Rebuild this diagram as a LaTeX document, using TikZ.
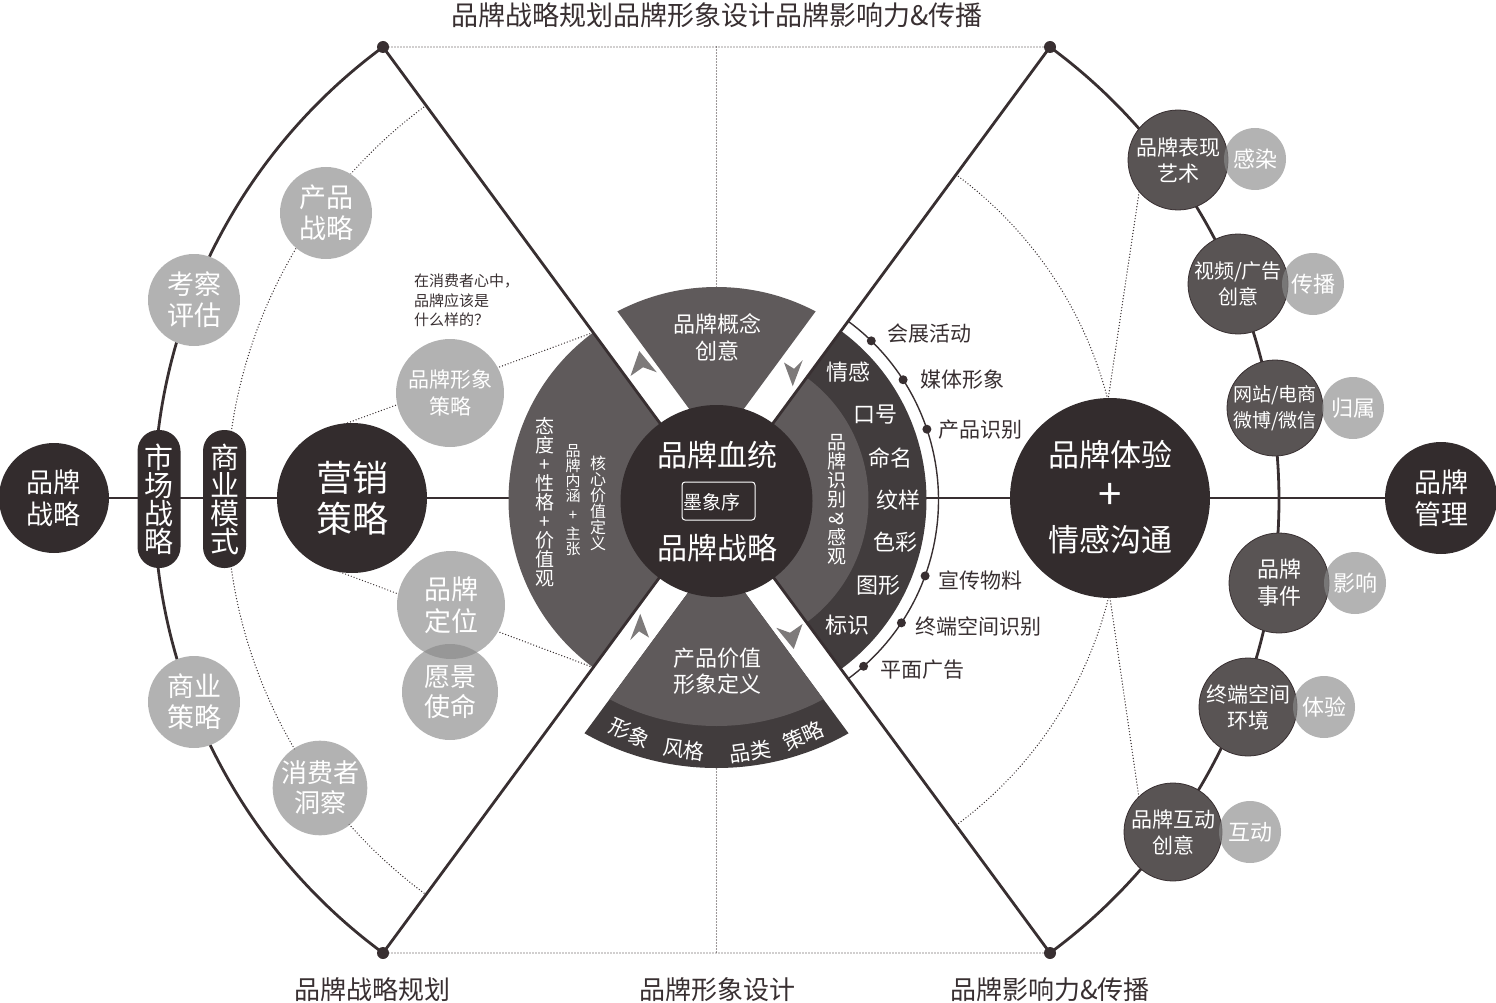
\documentclass[tikz,border=0pt]{standalone}
\usepackage{fontspec}
\setmainfont{Noto Sans CJK SC}
\usetikzlibrary{calc}
\definecolor{cdark}{HTML}{332C2D}
\definecolor{csec}{HTML}{5F5A5B}
\definecolor{cring}{HTML}{413C3D}
\definecolor{cmid}{HTML}{595454}
\definecolor{clight}{HTML}{8A8A8A}
\definecolor{cline}{HTML}{382F31}
\definecolor{carrow}{HTML}{7D7A7A}
\newcommand{\fs}[2]{\fontsize{#1}{#2}\selectfont}
\begin{document}
\begin{tikzpicture}[x=1pt,y=-1pt,
 mainline/.style={line width=2.8pt, draw=cline},
 dotline/.style={line width=1.4pt, draw=cline, line cap=round, dash pattern=on 0pt off 3pt},
 darkc/.style={circle, fill=cdark, text=white, inner sep=0pt, align=center},
 midc/.style={circle, fill=cmid, draw=cline, line width=0.8pt, text=white, inner sep=0pt, align=center},
 lightc/.style={circle, fill=clight, fill opacity=0.65, text opacity=1, text=white, inner sep=0pt, align=center},
 pillbox/.style={rectangle, rounded corners=21pt, fill=cdark, text=white, minimum width=43pt, minimum height=138pt, inner sep=0pt, align=center, font=\fs{29}{28}},
 wtxt/.style={text=white, inner sep=0pt, align=center},
 btxt/.style={text=cline, inner sep=0pt, align=center},
 dotn/.style={circle, fill=cline, inner sep=0pt, minimum size=9pt},
 vdot/.style={circle, fill=cline, inner sep=0pt, minimum size=12pt},
]
\useasboundingbox (0,0) rectangle (1496,1003);
\coordinate (C) at (716.5,500);
\coordinate (VTL) at (383,47);
\coordinate (VTR) at (1050,47);
\coordinate (VBL) at (383,953);
\coordinate (VBR) at (1050,953);

% ---------- dotted guides
\draw[dotline] (VTL) -- (VTR);
\draw[dotline] (VBL) -- (VBR);
\coordinate (TT) at (716.5,47); \coordinate (TB) at (716.5,300);
\draw[dotline] (TT) -- (TB);
\coordinate (BT) at (716.5,760); \coordinate (BB) at (716.5,953);
\draw[dotline] (BT) -- (BB);
\draw[dotline] (C) ++(233.64:490) arc[start angle=233.64,end angle=126.36,radius=490];
\draw[dotline] (C) ++(-53.64:404) arc[start angle=-53.64,end angle=53.64,radius=404];
\coordinate (m1) at (342,425); \coordinate (LSt) at (593.2,332.5);
\draw[dotline] (m1) -- (LSt);
\coordinate (m2) at (340,572); \coordinate (LSb) at (593.2,667.5);
\draw[dotline] (m2) -- (LSb);
\coordinate (r1) at (1140,186); \coordinate (r2) at (1108,400);
\draw[dotline] (r1) -- (r2);
\coordinate (r3) at (1110,598); \coordinate (r4) at (1140,805);
\draw[dotline] (r3) -- (r4);

% ---------- solid outer arcs and axis
\draw[mainline] (C) ++(233.64:562.5) arc[start angle=233.64,end angle=126.36,radius=562.5];
\draw[mainline] (C) ++(-53.64:562.5) arc[start angle=-53.64,end angle=53.64,radius=562.5];
\coordinate (HL) at (54,498); \coordinate (HR) at (1441,498);
\draw[mainline] (HL) -- (HR);

% ---------- sectors
\fill[csec] (C) -- ++(126.36:208) arc[start angle=126.36,end angle=233.64,radius=208] -- cycle;
\fill[cring] (C) -- ++(-53.64:210) arc[start angle=-53.64,end angle=53.64,radius=210] -- cycle;
\fill[csec] (C) -- ++(-53.64:152) arc[start angle=-53.64,end angle=53.64,radius=152] -- cycle;
\begin{scope}
 \clip (716.5,446) -- (479.3,123.9) -- (953.7,123.9) -- cycle;
 \fill[csec] (C) circle[radius=213];
\end{scope}
\begin{scope}
 \clip (716.5,554) -- (479.3,876.1) -- (953.7,876.1) -- cycle;
 \fill[cring] (C) circle[radius=268];
 \fill[csec] (C) circle[radius=226];
\end{scope}

% ---------- X lines
\draw[mainline] (VTL) -- (VBR);
\draw[mainline] (VTR) -- (VBL);

% ---------- thin arc with dots
\draw[line width=1.4pt, cline] (C) ++(-53.64:222) arc[start angle=-53.64,end angle=53.64,radius=222];
\node[dotn] (d1) at ($(C)+(-45.8:222)$) {};
\node[dotn] (d2) at ($(C)+(-32.8:222)$) {};
\node[dotn] (d3) at ($(C)+(-18.6:222)$) {};
\node[dotn] (d4) at ($(C)+(20.0:222)$) {};
\node[dotn] (d5) at ($(C)+(33.6:222)$) {};
\node[dotn] (d6) at ($(C)+(48.5:222)$) {};
\node[btxt, anchor=west, font=\fs{21}{21}] (t1) at (887,334) {会展活动};
\node[btxt, anchor=west, font=\fs{21}{21}] (t2) at (920,380) {媒体形象};
\node[btxt, anchor=west, font=\fs{21}{21}] (t3) at (938,430) {产品识别};
\node[btxt, anchor=west, font=\fs{21}{21}] (t4) at (938,580) {宣传物料};
\node[btxt, anchor=west, font=\fs{21}{21}] (t5) at (915,626) {终端空间识别};
\node[btxt, anchor=west, font=\fs{21}{21}] (t6) at (880,670) {平面广告};

% ---------- centre
\node[darkc, minimum size=192pt] (ctr) at (716.5,501) {};
\node[wtxt, font=\fs{30}{30}] (ct1) at (717,455) {品牌血统};
\node[wtxt, font=\fs{30}{30}] (ct2) at (717,548) {品牌战略};
\node[draw=white, line width=1pt, rounded corners=3pt, minimum width=73pt, minimum height=38pt, inner sep=0pt] (logo) at (718.5,501) {};
\node[wtxt, font=\fs{19}{19}] (logot) at (712,502) {墨象序};

% ---------- arrows
\begin{scope}[shift={(643,366)}, scale=1.25]
 \fill[carrow] (-3,-12) -- (-10,8) -- (0,1) -- (11,5) -- cycle;
\end{scope}
\begin{scope}[shift={(794,370)}, scale=1.25]
 \fill[carrow] (-1,13) -- (-8,-6) -- (0,-1) -- (7,-8) -- cycle;
\end{scope}
\begin{scope}[shift={(639,630)}, scale=1.25]
 \fill[carrow] (1,-13) -- (8,6) -- (0,1) -- (-7,8) -- cycle;
\end{scope}
\begin{scope}[shift={(790,634)}, scale=1.25]
 \fill[carrow] (3,12) -- (10,-8) -- (0,-1) -- (-11,-5) -- cycle;
\end{scope}

% ---------- vertex dots
\node[vdot] (vd1) at (VTL) {};
\node[vdot] (vd2) at (VTR) {};
\node[vdot] (vd3) at (VBL) {};
\node[vdot] (vd4) at (VBR) {};

% ---------- sector texts
\node[wtxt, font=\fs{22}{27}] (tops) at (717,337) {品牌概念\\创意};
\node[wtxt, font=\fs{22}{26}] (bots) at (717,671) {产品价值\\形象定义};
\node[wtxt, font=\fs{21}{21}, rotate=-24] (bd1) at (630,733) {形象};
\node[wtxt, font=\fs{21}{21}, rotate=-8] (bd2) at (684,750) {风格};
\node[wtxt, font=\fs{21}{21}, rotate=8] (bd3) at (750,752) {品类};
\node[wtxt, font=\fs{21}{21}, rotate=24] (bd4) at (803,736) {策略};
\node[wtxt, font=\fs{19}{19}] (lv1) at (545,502) {态\\度\\+\\性\\格\\+\\价\\值\\观};
\node[wtxt, font=\fs{15}{15}] (lv2) at (573,500) {品\\牌\\内\\涵\\[4pt]+\\[4pt]主\\张};
\node[wtxt, font=\fs{16}{16}] (lv3) at (598,503) {核\\心\\价\\值\\定\\义};
\node[wtxt, font=\fs{19}{19}] (rv) at (837,500) {品\\牌\\识\\别\\\rotatebox{90}{\&}\\感\\观};
\foreach \t/\x/\y [count=\i] in {情感/848/372, 口号/875/415, 命名/890/458, 纹样/898/500, 色彩/895/542, 图形/878/585, 标识/847/625}
  \node[wtxt, font=\fs{22}{22}] (ring\i) at (\x,\y) {\t};

% ---------- left side
\node[darkc, minimum size=110pt, font=\fs{27}{32}] (bs) at (54,498) {品牌\\战略};
\node[pillbox] (p1) at (159,499) {市\\场\\战\\略};
\node[pillbox] (p2) at (224.5,499) {商\\业\\模\\式};
\node[darkc, minimum size=150pt, font=\fs{36}{41}] (yx) at (352,498) {营销\\策略};
\foreach \x/\y/\r in {194/300/46, 326/213/46, 450/393/54, 451/605/54, 450/692/48, 194/702/46, 320/788/46}
  \fill[white] (\x,\y) circle[radius=\r];
\node[lightc, minimum size=92pt, font=\fs{27}{31}] (l1) at (194,300) {考察\\评估};
\node[lightc, minimum size=92pt, font=\fs{27}{31}] (l2) at (326,213) {产品\\战略};
\node[lightc, minimum size=108pt, font=\fs{21}{27}] (l3) at (450,393) {品牌形象\\策略};
\node[lightc, minimum size=108pt, font=\fs{27}{32}] (l4) at (451,605) {品牌\\定位};
\node[lightc, minimum size=96pt, font=\fs{26}{30}] (l5) at (450,692) {愿景\\使命};
\node[lightc, minimum size=92pt, font=\fs{27}{31}] (l6) at (194,702) {商业\\策略};
\node[lightc, minimum size=92pt, font=\fs{26}{30}] (l7) at (320,788) {消费者\\洞察};
\node[btxt, anchor=north west, align=left, font=\fs{15}{19.5}] (q) at (414,274) {在消费者心中，\\品牌应该是\\什么样的？};

% ---------- right side
\node[darkc, minimum size=200pt] (exp) at (1110,498) {};
\node[wtxt, font=\fs{31}{31}] (e1) at (1110,455) {品牌体验};
\node[wtxt, font=\fs{42}{42}] (e2) at (1110,496) {+};
\node[wtxt, font=\fs{31}{31}] (e3) at (1110,540) {情感沟通};
\node[darkc, minimum size=112pt, font=\fs{27}{32}] (bm) at (1441,498) {品牌\\管理};
\node[midc, minimum size=100pt, font=\fs{21}{26}] (a1) at (1178,160) {品牌表现\\艺术};
\node[midc, minimum size=100pt, font=\fs{20}{26}] (a2) at (1238,284) {视频/广告\\创意};
\node[midc, minimum size=96pt, font=\fs{19}{26}] (a3) at (1275,408) {网站/电商\\微博/微信};
\node[midc, minimum size=100pt, font=\fs{22}{27}] (a4) at (1279,583) {品牌\\事件};
\node[midc, minimum size=98pt, font=\fs{21}{26}] (a5) at (1248,707) {终端空间\\环境};
\node[midc, minimum size=98pt, font=\fs{21}{26}] (a6) at (1173,832) {品牌互动\\创意};
\node[lightc, minimum size=62pt, font=\fs{22}{22}] (b1) at (1255,159) {感染};
\node[lightc, minimum size=62pt, font=\fs{22}{22}] (b2) at (1313,284) {传播};
\node[lightc, minimum size=62pt, font=\fs{22}{22}] (b3) at (1353,408) {归属};
\node[lightc, minimum size=62pt, font=\fs{22}{22}] (b4) at (1355,583) {影响};
\node[lightc, minimum size=62pt, font=\fs{22}{22}] (b5) at (1324,707) {体验};
\node[lightc, minimum size=62pt, font=\fs{22}{22}] (b6) at (1250,832) {互动};

% ---------- titles
\node[btxt, font=\fs{27}{27}] (title) at (717,15) {品牌战略规划品牌形象设计品牌影响力\&传播};
\node[btxt, font=\fs{26}{26}] (bl1) at (372,990) {品牌战略规划};
\node[btxt, font=\fs{26}{26}] (bl2) at (717,990) {品牌形象设计};
\node[btxt, font=\fs{26}{26}] (bl3) at (1050,990) {品牌影响力\&传播};
\end{tikzpicture}
\end{document}
